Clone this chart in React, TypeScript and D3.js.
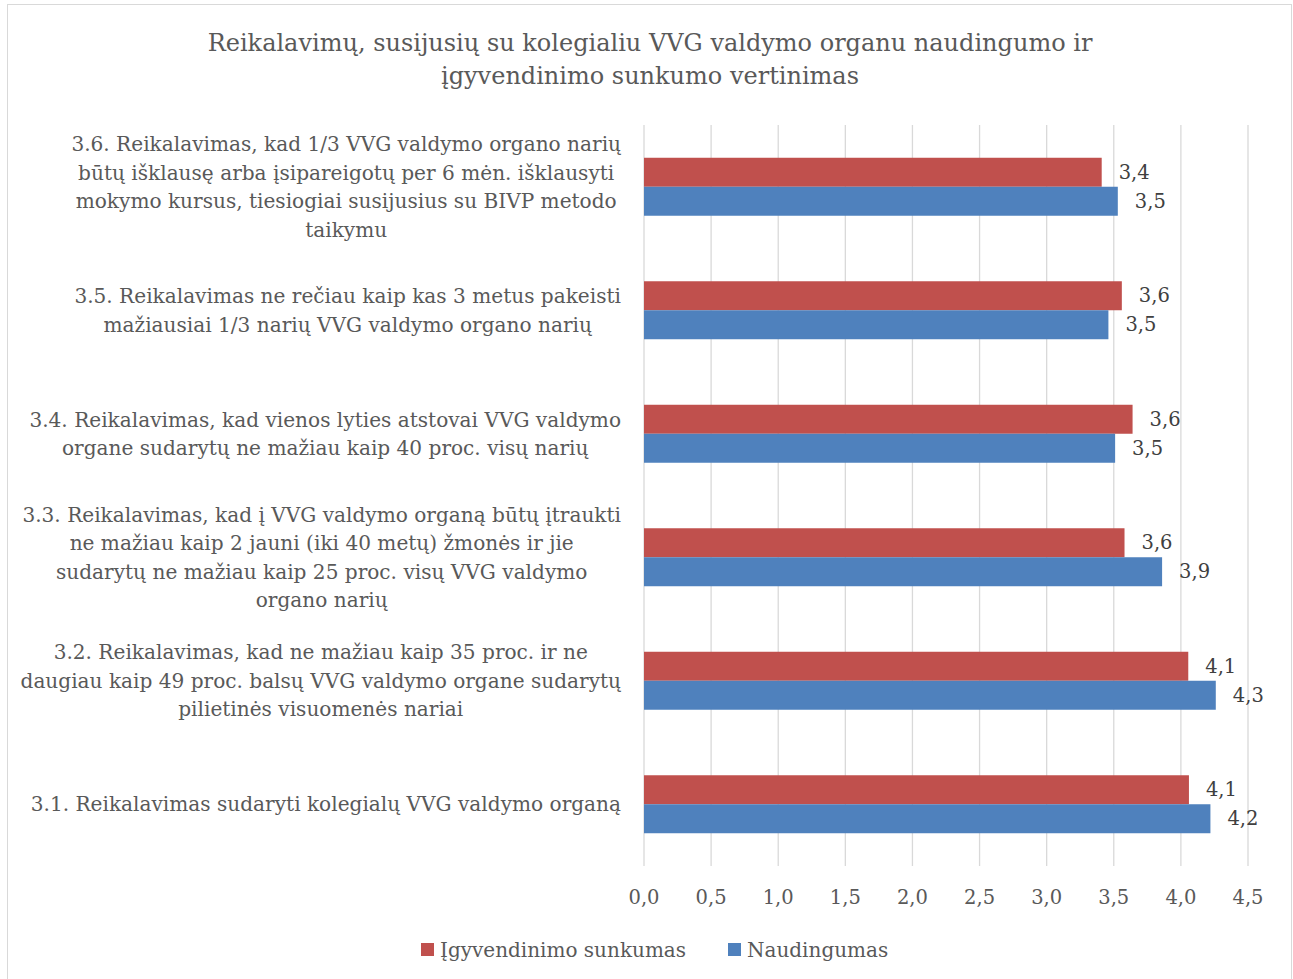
import React, { useEffect, useRef } from 'react'
import * as d3 from 'd3'

// categories bottom -> top, each split in the lines shown on the chart
const categoryLines: string[][] = [
	['3.1. Reikalavimas sudaryti kolegialų VVG valdymo organą'],
	[
		'3.2. Reikalavimas, kad ne mažiau kaip 35 proc. ir ne',
		'daugiau kaip 49 proc. balsų VVG valdymo organe sudarytų',
		'pilietinės visuomenės nariai'
	],
	[
		'3.3. Reikalavimas, kad į VVG valdymo organą būtų įtraukti',
		'ne mažiau kaip 2 jauni (iki 40 metų) žmonės ir jie',
		'sudarytų ne mažiau kaip 25 proc. visų VVG valdymo',
		'organo narių'
	],
	[
		'3.4. Reikalavimas, kad vienos lyties atstovai VVG valdymo',
		'organe sudarytų ne mažiau kaip 40 proc. visų narių'
	],
	[
		'3.5. Reikalavimas ne rečiau kaip kas 3 metus pakeisti',
		'mažiausiai 1/3 narių VVG valdymo organo narių'
	],
	[
		'3.6. Reikalavimas, kad 1/3 VVG valdymo organo narių',
		'būtų išklausę arba įsipareigotų per 6 mėn. išklausyti',
		'mokymo kursus, tiesiogiai susijusius su BIVP metodo',
		'taikymu'
	]
]
const categories = ['3.1', '3.2', '3.3', '3.4', '3.5', '3.6']

const sunkumas = [4.06, 4.055, 3.58, 3.64, 3.56, 3.41]
const naudingumas = [4.22, 4.26, 3.86, 3.51, 3.46, 3.53]

const seriesNames = ['Įgyvendinimo sunkumas', 'Naudingumas']
const seriesColors = ['#C0504D', '#4F81BD']

const xTicks = [0, 0.5, 1, 1.5, 2, 2.5, 3, 3.5, 4, 4.5]

const titleLines = [
	'Reikalavimų, susijusių su kolegialiu VVG valdymo organu naudingumo ir',
	'įgyvendinimo sunkumo vertinimas'
]

const App = () => {
	const ref = useRef<SVGSVGElement>(null)

	const width = 1293
	const height = 979
	const plotLeft = 644
	const plotRight = 1248
	const plotTop = 125
	const plotBottom = 866
	const textColor = '#595959'
	const font = 'DejaVu Serif'

	useEffect(() => {
		if (!ref.current) return
		const svg = d3.select(ref.current)
		svg.selectAll('*').remove()

		// chart frame
		svg
			.append('rect')
			.attr('x', 7.5)
			.attr('y', 4.5)
			.attr('width', 1284)
			.attr('height', 1000)
			.attr('fill', 'white')
			.attr('stroke', '#D9D9D9')

		const x = d3.scaleLinear().domain([0, 4.5]).range([plotLeft, plotRight])
		const y = d3
			.scaleBand()
			.domain(categories.slice().reverse())
			.range([plotTop, plotBottom])
			.padding(0)
		const ySub = d3
			.scaleBand()
			.domain(['s', 'n'])
			.range([0, y.bandwidth()])
			.paddingInner(0)
			.paddingOuter(1.13)

		// title
		svg
			.append('g')
			.selectAll('text')
			.data(titleLines)
			.join('text')
			.attr('x', 650)
			.attr('y', (d, i) => 43 + i * 33)
			.attr('text-anchor', 'middle')
			.attr('dominant-baseline', 'central')
			.attr('font-family', font)
			.attr('font-size', 24)
			.attr('fill', textColor)
			.text(d => d)

		// gridlines
		svg
			.append('g')
			.selectAll('line')
			.data(xTicks)
			.join('line')
			.attr('x1', d => x(d))
			.attr('x2', d => x(d))
			.attr('y1', plotTop)
			.attr('y2', plotBottom)
			.attr('stroke', '#D9D9D9')
			.attr('stroke-width', 1.3)

		// tick labels
		svg
			.append('g')
			.selectAll('text')
			.data(xTicks)
			.join('text')
			.attr('x', d => x(d))
			.attr('y', 897)
			.attr('text-anchor', 'middle')
			.attr('dominant-baseline', 'central')
			.attr('font-family', font)
			.attr('font-size', 19.5)
			.attr('fill', textColor)
			.text(d => d3.format('.1f')(d).replace('.', ','))

		// bars
		const series = [sunkumas, naudingumas]
		const keys = ['s', 'n']
		series.forEach((values, si) => {
			const g = svg.append('g')
			g.selectAll('rect')
				.data(values)
				.join('rect')
				.attr('x', x(0))
				.attr('y', (d, i) => y(categories[i]) + ySub(keys[si]))
				.attr('width', d => x(d) - x(0))
				.attr('height', ySub.bandwidth())
				.attr('fill', seriesColors[si])
			g.selectAll('text')
				.data(values)
				.join('text')
				.attr('x', d => x(d) + 17)
				.attr('y', (d, i) => y(categories[i]) + ySub(keys[si]) + ySub.bandwidth() / 2)
				.attr('dominant-baseline', 'central')
				.attr('font-family', font)
				.attr('font-size', 19.5)
				.attr('fill', '#404040')
				.text(d => d3.format('.1f')(d).replace('.', ','))
		})

		// category labels, block right aligned, lines centred in block
		const lineH = 28.5
		categoryLines.forEach((lines, ci) => {
			const g = svg.append('g')
			const cy = y(categories[ci]) + y.bandwidth() / 2
			const texts = g
				.selectAll('text')
				.data(lines)
				.join('text')
				.attr('y', (d, i) => cy + (i - (lines.length - 1) / 2) * lineH)
				.attr('text-anchor', 'middle')
				.attr('dominant-baseline', 'central')
				.attr('font-family', font)
				.attr('font-size', 20.1)
				.attr('fill', textColor)
				.text(d => d)
			let maxW = 0
			texts.each(function () {
				maxW = Math.max(maxW, (this as SVGTextElement).getComputedTextLength())
			})
			texts.attr('x', 621 - maxW / 2)
		})

		// legend
		const legendX = [421, 728]
		const legend = svg.append('g')
		seriesNames.forEach((name, i) => {
			legend
				.append('rect')
				.attr('x', legendX[i])
				.attr('y', 943)
				.attr('width', 13)
				.attr('height', 13)
				.attr('fill', seriesColors[i])
			legend
				.append('text')
				.attr('x', legendX[i] + 19)
				.attr('y', 950)
				.attr('dominant-baseline', 'central')
				.attr('font-family', font)
				.attr('font-size', 20)
				.attr('fill', textColor)
				.text(name)
		})
	}, [])

	return (
		<svg
			ref={ref}
			width={width}
			height={height}
			style={{ position: 'absolute', left: 0, top: 0, background: 'white' }}
		></svg>
	)
}

export default App
